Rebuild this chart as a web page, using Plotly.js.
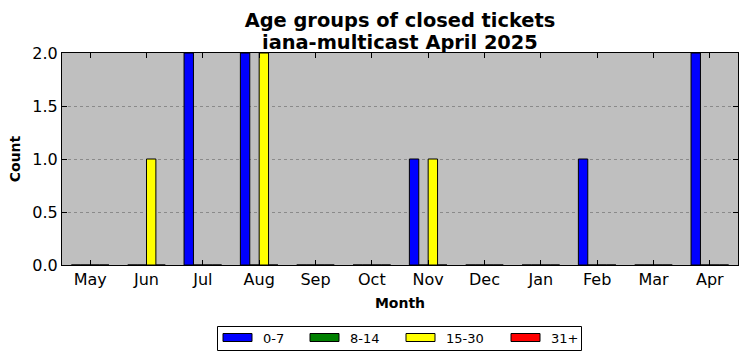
<!DOCTYPE html>
<html>
<head>
<meta charset="utf-8">
<script src="https://cdn.plot.ly/plotly-3.0.1.min.js"></script>
<style>html,body{margin:0;padding:0;background:#fff;}#chart{width:747px;height:361px;}</style>
</head>
<body>
<div id="chart"></div>
<script>
var months = ["May","Jun","Jul","Aug","Sep","Oct","Nov","Dec","Jan","Feb","Mar","Apr"];
var seriesNames = ["0-7","8-14","15-30","31+"];
var seriesColors = ["#0000ff","#008000","#ffff00","#ff0000"];
var age0to7   = [0,0,2,2,0,0,1,0,0,1,0,2];
var age8to14  = [0,0,0,0,0,0,0,0,0,0,0,0];
var age15to30 = [0,1,0,2,0,0,1,0,0,0,0,0];
var age31plus = [0,0,0,0,0,0,0,0,0,0,0,0];
var allSeries = [age0to7, age8to14, age15to30, age31plus];
var titleLine1 = "Age groups of closed tickets";
var titleLine2 = "iana-multicast April 2025";

var W = 747, H = 361;
var mL = 62, mR = 9, mT = 53, mB = 96;
var pw = W - mL - mR, ph = H - mT - mB;
function px2x(px){ return (px - mL) / pw; }
function py2y(py){ return (H - mB - py) / ph; }

var font = "DejaVu Sans, Arial, sans-serif";
var traces = allSeries.map(function(vals, i){
  return {
    type: "bar",
    name: seriesNames[i],
    x: months.map(function(m, j){ return j; }),
    y: vals,
    marker: {color: seriesColors[i], line: {color: "#000", width: 1}},
    showlegend: false
  };
});

var shapes = [];
var annotations = [];
shapes.push({type:"rect", xref:"paper", yref:"paper",
  x0: px2x(217.5), x1: px2x(581.5), y0: py2y(350.5), y1: py2y(326.5),
  line:{color:"#000", width:1}, fillcolor:"#fff", layer:"above"});
var swX = [223, 310, 406, 511];
for (var i = 0; i < seriesNames.length; i++) {
  shapes.push({type:"rect", xref:"paper", yref:"paper",
    x0: px2x(swX[i]), x1: px2x(swX[i] + 29), y0: py2y(341.5), y1: py2y(333.5),
    line:{color:"#000", width:1}, fillcolor: seriesColors[i], layer:"above"});
  annotations.push({xref:"paper", yref:"paper", x: px2x(swX[i] + 38), y: py2y(338),
    xanchor:"left", yanchor:"middle", showarrow:false, text: seriesNames[i],
    font:{family: font, size: 13, color:"#000"}});
}
// second title line
annotations.push({xref:"paper", yref:"paper", x: 0.5, y: py2y(42), xanchor:"center", yanchor:"middle",
  showarrow:false, text: "<b>" + titleLine2 + "</b>", font:{family: font, size: 19.4, color:"#000"}});

var layout = {
  width: W, height: H,
  margin: {l: mL, r: mR, t: mT, b: mB, pad: 0},
  paper_bgcolor: "#fff",
  plot_bgcolor: "#bfbfbf",
  barmode: "group",
  bargap: 0.3333,
  bargroupgap: 0,
  showlegend: false,
  title: {text: "<b>" + titleLine1 + "</b>",
    font: {family: font, size: 19.4, color: "#000"},
    x: 0.5, xref: "paper", xanchor: "center", y: 1 - 27 / 361, yref: "container", yanchor: "bottom",
    pad: {b: 0, t: 0}},
  xaxis: {
    range: [-0.5, 11.5],
    tickmode: "array", tickvals: months.map(function(m, j){ return j; }), ticktext: months,
    ticks: "inside", ticklen: 5, tickcolor: "#000", mirror: "ticks",
    showline: true, linecolor: "#000", linewidth: 1,
    showgrid: false, zeroline: false,
    tickfont: {family: font, size: 16, color: "#000"},
    title: {text: "<b>Month</b>", font: {family: font, size: 14, color: "#000"}, standoff: 9}
  },
  yaxis: {
    range: [0, 2],
    tickvals: [0, 0.5, 1, 1.5, 2], ticktext: ["0.0","0.5","1.0","1.5","2.0"],
    ticks: "inside", ticklen: 5, tickcolor: "#000", mirror: "ticks",
    showline: true, linecolor: "#000", linewidth: 1,
    showgrid: true, gridcolor: "#8a8a8a", griddash: "dot", gridwidth: 1,
    zeroline: false,
    tickfont: {family: font, size: 16, color: "#000"},
    title: {text: "<b>Count</b>", font: {family: font, size: 14, color: "#000"}, standoff: 8}
  },
  shapes: shapes,
  annotations: annotations
};

Plotly.newPlot("chart", traces, layout, {displayModeBar: false, staticPlot: true});
</script>
</body>
</html>
